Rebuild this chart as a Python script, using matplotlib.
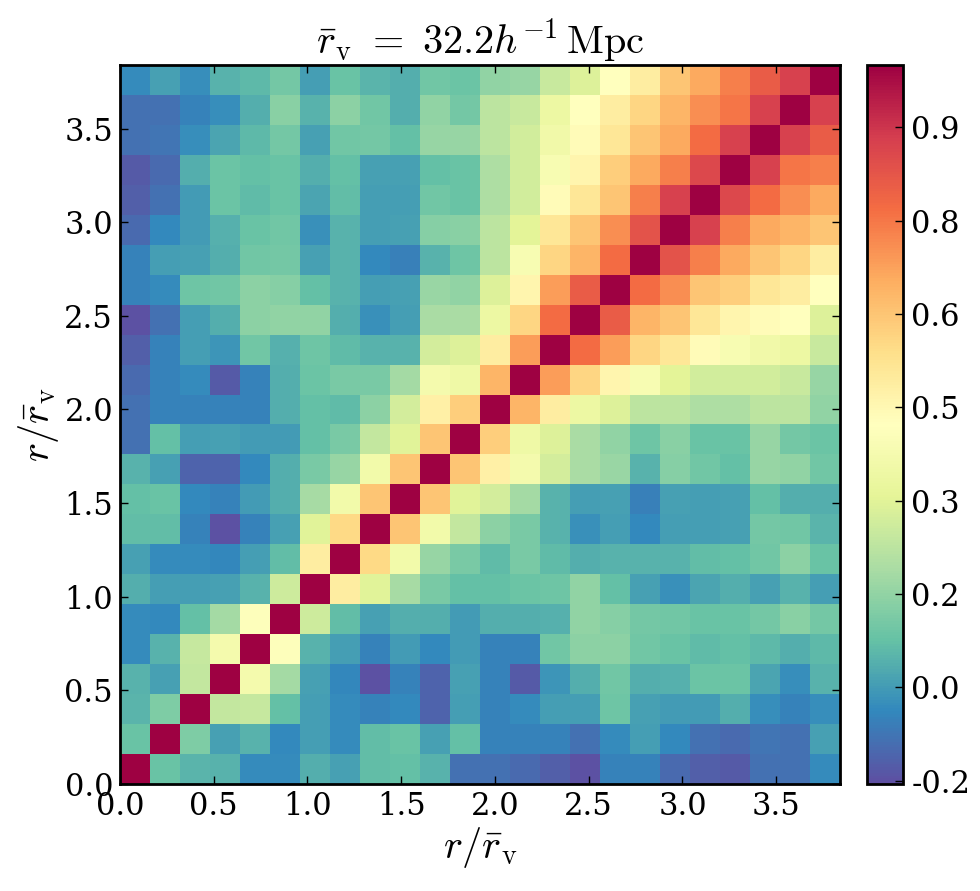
import numpy as np
import matplotlib
matplotlib.use('Agg')
import matplotlib.pyplot as plt

plt.rcParams['font.family'] = 'serif'
plt.rcParams['mathtext.fontset'] = 'cm'

# bin edges (r / r_v), 24 bins of 0.16
n_bins = 24
bin_width = 0.16

# lower triangle of the correlation matrix, row r holds columns 0..r-1
lower_rows = [
    [0.08],
    [0.05, 0.12],
    [0.045, 0.01, 0.24],
    [-0.03, 0.045, 0.245, 0.37],
    [-0.03, -0.035, 0.075, 0.18, 0.41],
    [0.035, 0.005, 0.005, 0.01, 0.045, 0.26],
    [0.01, -0.03, -0.03, -0.04, 0.005, 0.07, 0.49],
    [0.07, 0.07, -0.05, -0.15, -0.05, 0.01, 0.3, 0.55],
    [0.075, 0.08, -0.035, -0.05, 0.0, 0.035, 0.185, 0.36, 0.6],
    [0.045, 0.01, -0.11, -0.11, -0.035, 0.035, 0.11, 0.16, 0.36, 0.6],
    [-0.085, 0.075, 0.005, 0.01, 0.0, 0.0, 0.075, 0.11, 0.24, 0.3, 0.6],
    [-0.085, -0.05, -0.05, -0.05, -0.05, 0.035, 0.075, 0.065, 0.14, 0.27, 0.48, 0.58],
    [-0.1, -0.05, -0.03, -0.13, -0.05, 0.035, 0.085, 0.11, 0.11, 0.18, 0.37, 0.35,
     0.635],
    [-0.12, -0.05, 0.005, -0.015, 0.095, 0.04, 0.09, 0.065, 0.045, 0.045, 0.27, 0.29,
     0.49, 0.68],
    [-0.15, -0.085, 0.005, 0.035, 0.14, 0.15, 0.15, 0.035, -0.02, 0.005, 0.19, 0.19,
     0.34, 0.56, 0.77],
    [-0.05, -0.03, 0.09, 0.095, 0.14, 0.13, 0.075, 0.045, 0.005, 0.01, 0.165, 0.15,
     0.29, 0.46, 0.68, 0.81],
    [-0.05, 0.005, 0.01, 0.035, 0.095, 0.1, 0.01, 0.045, -0.035, -0.055, 0.045, 0.09,
     0.225, 0.385, 0.56, 0.635, 0.77],
    [-0.1, -0.035, 0.0, 0.04, 0.08, 0.095, -0.02, 0.045, 0.005, 0.01, 0.13, 0.135,
     0.225, 0.305, 0.51, 0.6, 0.71, 0.83],
    [-0.12, -0.085, 0.0, 0.085, 0.065, 0.08, 0.02, 0.07, 0.005, 0.005, 0.095, 0.08,
     0.2, 0.265, 0.44, 0.51, 0.6, 0.735, 0.875],
    [-0.13, -0.1, 0.035, 0.085, 0.075, 0.08, 0.035, 0.075, 0.01, 0.01, 0.075, 0.08,
     0.2, 0.265, 0.385, 0.46, 0.58, 0.66, 0.735, 0.86],
    [-0.085, -0.075, -0.025, 0.02, 0.06, 0.1, 0.01, 0.095, 0.1, 0.075, 0.16, 0.16,
     0.225, 0.265, 0.355, 0.44, 0.51, 0.6, 0.66, 0.77, 0.875],
    [-0.085, -0.085, -0.05, -0.025, 0.035, 0.135, 0.045, 0.14, 0.095, 0.035, 0.15, 0.1,
     0.225, 0.25, 0.34, 0.42, 0.49, 0.56, 0.635, 0.71, 0.755, 0.875],
    [-0.03, 0.01, -0.025, 0.045, 0.06, 0.1, 0.005, 0.08, 0.05, 0.035, 0.095, 0.085,
     0.15, 0.16, 0.25, 0.29, 0.42, 0.49, 0.6, 0.66, 0.735, 0.81, 0.875],
]

vmin, vmax = -0.155, 1.0
axis_ticks = [0.0, 0.5, 1.0, 1.5, 2.0, 2.5, 3.0, 3.5]
cbar_ticks = [-0.15, 0.0, 0.15, 0.3, 0.45, 0.6, 0.75, 0.9]
cbar_labels = ['-0.2', '0.0', '0.2', '0.3', '0.5', '0.6', '0.8', '0.9']

# symmetric matrix with unit diagonal
corr = np.eye(n_bins)
for r, row in enumerate(lower_rows, start=1):
    corr[r, :r] = row
    corr[:r, r] = row

edges = np.arange(n_bins + 1) * bin_width

fig = plt.figure(figsize=(9.8, 8.91), dpi=100)
ax = fig.add_axes([0.1224, 0.1201, 0.7347, 0.807])
mesh = ax.pcolormesh(edges, edges, corr, cmap='Spectral_r', vmin=vmin, vmax=vmax)

ax.set_xlim(edges[0], edges[-1])
ax.set_ylim(edges[0], edges[-1])
ax.set_xticks(axis_ticks)
ax.set_yticks(axis_ticks)
ax.set_xticklabels(['%.1f' % t for t in axis_ticks])
ax.set_yticklabels(['%.1f' % t for t in axis_ticks])
ax.tick_params(direction='in', length=6, width=1, top=True, right=True,
               labelsize=22, pad=5)
for s in ax.spines.values():
    s.set_linewidth(2)

ax.set_xlabel(r'$r/\bar{r}_\mathrm{v}$', fontsize=29, labelpad=2)
ax.set_ylabel(r'$r/\bar{r}_\mathrm{v}$', fontsize=29, labelpad=2)
ax.set_title(r'$\bar{r}_\mathrm{v}\ =\ 32.2h^{-1}\,\mathrm{Mpc}$', fontsize=29, pad=8)

cax = fig.add_axes([0.8847, 0.1201, 0.0367, 0.807])
cb = fig.colorbar(mesh, cax=cax, ticks=cbar_ticks)
cb.ax.set_yticklabels(cbar_labels)
cb.ax.tick_params(direction='in', length=6, width=1, labelsize=22, pad=6)
cb.outline.set_linewidth(2)

fig.savefig('out.png', dpi=100)
